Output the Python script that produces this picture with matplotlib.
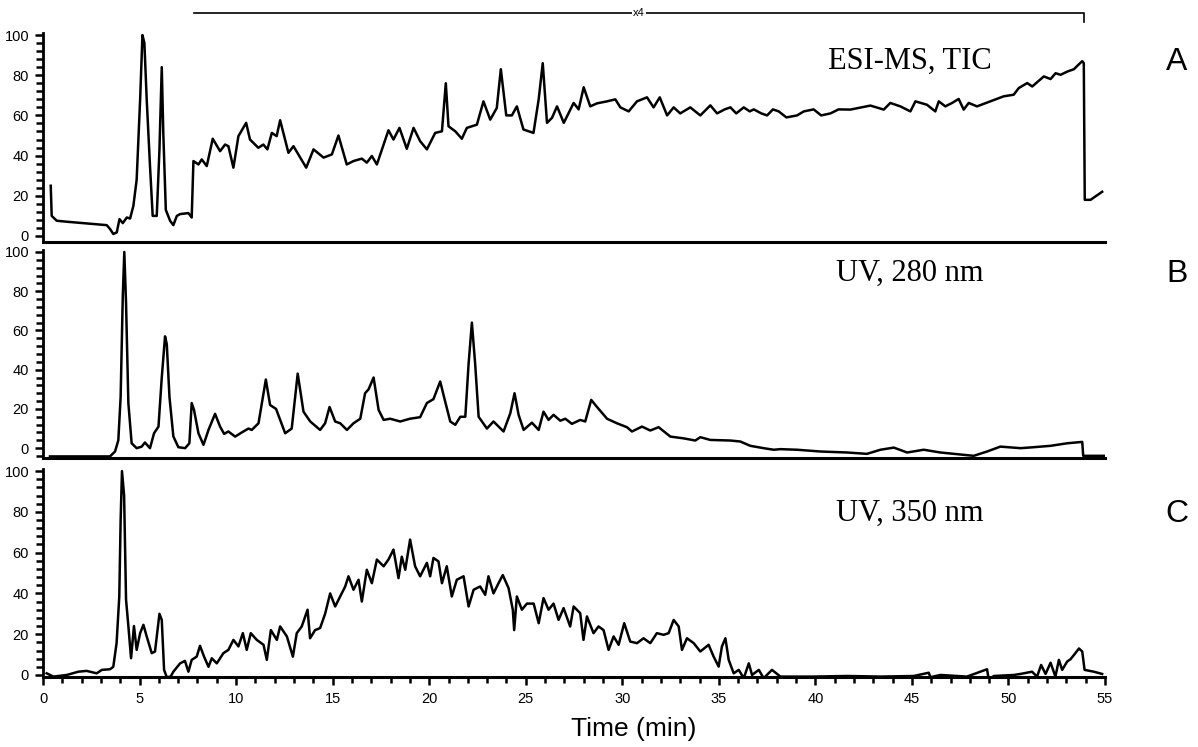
import matplotlib.pyplot as plt
from matplotlib.ticker import MultipleLocator, AutoMinorLocator
import matplotlib.transforms as mtransforms

plt.rcParams['font.family'] = ['Liberation Sans', 'DejaVu Sans']

# Panel A: ESI-MS total ion current (time in min, relative intensity)
tic_t = [0.40, 0.45, 0.71, 1.23, 2.09, 3.30, 3.47, 3.64, 3.82, 3.96, 4.13, 4.34, 4.51, 4.68, 4.85,
         5.03, 5.15, 5.25, 5.37, 5.54, 5.68, 5.89, 6.03, 6.15, 6.23, 6.36, 6.58, 6.75, 6.93, 7.10,
         7.53, 7.70, 7.79, 8.05, 8.22, 8.48, 8.79, 9.17, 9.43, 9.60, 9.86, 10.12, 10.52, 10.72,
         11.15, 11.41, 11.62, 11.85, 12.10, 12.28, 12.71, 12.97, 13.63, 14.01, 14.53, 14.96, 15.30,
         15.73, 16.08, 16.51, 16.77, 17.03, 17.29, 17.89, 18.15, 18.46, 18.84, 19.19, 19.53, 19.88,
         20.31, 20.66, 20.86, 21.00, 21.35, 21.69, 21.95, 22.47, 22.81, 23.16, 23.50, 23.71, 23.99,
         24.28, 24.54, 24.88, 25.40, 25.67, 25.88, 26.10, 26.36, 26.62, 26.97, 27.48, 27.74, 28.00,
         28.34, 28.69, 29.21, 29.64, 29.90, 30.33, 30.76, 31.28, 31.62, 31.94, 32.32, 32.66, 33.00,
         33.52, 34.04, 34.56, 34.91, 35.30, 35.60, 35.90, 36.29, 36.60, 36.81, 37.20, 37.50, 37.80,
         38.10, 38.50, 39.05, 39.40, 39.91, 40.30, 40.78, 41.20, 41.81, 42.33, 42.85, 43.54, 43.88,
         44.40, 44.92, 45.18, 45.78, 46.21, 46.39, 46.73, 47.08, 47.42, 47.68, 47.94, 48.37, 49.06,
         49.75, 50.27, 50.53, 50.97, 51.23, 51.83, 52.18, 52.44, 52.70, 53.04, 53.39, 53.60, 53.82,
         53.90, 53.95, 54.25, 54.85]
tic_v = [25, 10, 7.6, 7.1, 6.4, 5.4, 3.5, 1, 1.8, 8.4, 6.4, 9.2, 8.7, 15, 28,
         68, 100, 96, 68, 35, 10, 10, 43, 84, 51, 13, 7.6, 5.4, 10, 10.9,
         11.4, 9.2, 37.3, 35.6, 38.1, 34.8, 48.4, 42.2, 45.5, 44.7, 34, 49.7, 56.3, 48,
         43.9, 45.5, 43.1, 51.3, 49.7, 57.6, 41.4, 44.7, 34, 43.1, 39, 40.6, 50,
         35.6, 37.3, 38.5, 36.5, 39.8, 35.6, 52.6, 48, 53.8, 43.4, 53.8, 47.2, 43.1,
         51.3, 52.1, 76, 54.6, 52.1, 48.4, 53.8, 55.4, 67, 57.9, 63.7, 83, 60,
         60, 64.5, 53, 51.3, 68, 86, 56.3, 58.8, 64.5, 56.3, 66.2, 63, 74,
         64.5, 66, 67, 68, 64, 62, 67, 69, 64, 69, 60, 64, 61,
         64, 60, 65, 61, 63, 64, 61, 64, 62, 63, 61, 60, 63,
         62, 59, 60, 62, 63, 60, 61, 63, 62.9, 63.9, 64.9, 62.9, 66.2,
         64.5, 62, 67, 65.3, 62, 67, 64.5, 66.2, 68.2, 62.9, 66.2, 64.5, 67,
         69.5, 70.3, 73.6, 76.1, 74.4, 79.4, 78.1, 81, 80.2, 81.8, 83, 85, 87,
         86, 18, 18, 22]

# Panel B: UV 280 nm
uv280_t = [0.36, 3.47, 3.73, 3.90, 4.02, 4.13, 4.21, 4.30, 4.42, 4.59, 4.85, 5.11, 5.28, 5.54, 5.75,
           5.98, 6.15, 6.32, 6.41, 6.55, 6.75, 7.01, 7.36, 7.58, 7.70, 7.82, 8.05, 8.31, 8.57, 8.91,
           9.17, 9.38, 9.60, 9.95, 10.29, 10.64, 10.81, 11.16, 11.54, 11.76, 12.07, 12.54, 12.88,
           13.19, 13.49, 13.84, 14.35, 14.61, 14.84, 15.13, 15.39, 15.74, 16.08, 16.43, 16.68, 16.86,
           17.12, 17.38, 17.64, 17.98, 18.50, 19.00, 19.53, 19.88, 20.22, 20.57, 20.77, 21.09, 21.35,
           21.61, 21.87, 22.04, 22.21, 22.38, 22.56, 22.99, 23.33, 23.85, 24.20, 24.42, 24.63, 24.89,
           25.32, 25.67, 25.92, 26.18, 26.44, 26.79, 27.05, 27.39, 27.82, 28.08, 28.39, 28.69, 29.21,
           29.72, 30.24, 30.50, 31.02, 31.45, 31.88, 32.49, 33.18, 33.78, 34.04, 34.56, 35.60, 36.11,
           36.63, 37.32, 37.84, 38.19, 39.05, 40.26, 41.64, 42.67, 43.37, 44.06, 44.75, 45.61, 46.47,
           47.16, 48.20, 48.89, 49.58, 50.62, 51.31, 52.18, 53.04, 53.82, 53.87, 54.94]
uv280_v = [-4.2, -4.2, -1.7, 4, 26, 77, 100, 74, 23, 2.5, 0, 0.8, 2.9, 0, 7.6,
           11, 36, 57, 53, 26, 6, 0.5, 0, 2.5, 23, 19.5, 7.6, 1.7, 9.3, 17.5,
           11, 7.3, 8.5, 5.9, 8, 10, 9.3, 12.7, 35, 22, 20, 7.6, 10,
           38, 18.6, 13.6, 9.3, 12.7, 21, 13.6, 12.7, 9.3, 12.7, 15, 28, 30,
           36, 19.5, 14.4, 15, 13.6, 15, 15.8, 23, 25, 34, 26, 13.6, 11.9,
           16, 16, 43, 64, 43, 16, 10, 13.6, 8.5, 17.8, 28, 17, 9.3,
           13, 9.3, 18.6, 14.4, 17, 14, 15, 12.4, 14.4, 13.6, 24.6, 21, 15,
           12.7, 10.7, 8.5, 11, 9, 10.7, 5.9, 5, 3.9, 5.6, 4.2, 3.9, 3.4,
           1.2, 0, -0.8, -0.5, -0.8, -1.7, -2.2, -2.9, -0.8, 0.3, -2.2, -0.8, -2.2,
           -2.9, -3.9, -1.7, 0.8, 0, 0.5, 1.2, 2.5, 3.2, -3.9, -3.9]

# Panel C: UV 350 nm
uv350_t = [0.19, 0.54, 1.23, 1.83, 2.26, 2.78, 3.05, 3.47, 3.64, 3.81, 3.95, 4.02, 4.09, 4.20, 4.30,
           4.42, 4.56, 4.71, 4.85, 5.03, 5.20, 5.37, 5.63, 5.80, 6.03, 6.15, 6.27, 6.41, 6.61, 6.75,
           7.10, 7.35, 7.53, 7.70, 7.96, 8.13, 8.34, 8.57, 8.74, 9.00, 9.34, 9.60, 9.86, 10.12, 10.35,
           10.55, 10.76, 11.07, 11.42, 11.59, 11.80, 12.11, 12.28, 12.63, 12.94, 13.14, 13.40, 13.70,
           13.83, 14.09, 14.35, 14.61, 14.87, 15.13, 15.39, 15.65, 15.82, 16.08, 16.34, 16.51, 16.77,
           17.03, 17.29, 17.64, 17.89, 18.15, 18.41, 18.58, 18.76, 19.01, 19.27, 19.53, 19.88, 20.05,
           20.22, 20.48, 20.66, 20.91, 21.17, 21.43, 21.78, 22.04, 22.30, 22.64, 22.90, 23.07, 23.33,
           23.59, 23.81, 24.11, 24.33, 24.40, 24.54, 24.80, 25.06, 25.41, 25.67, 25.92, 26.18, 26.44,
           26.70, 26.96, 27.30, 27.48, 27.82, 27.99, 28.17, 28.51, 28.77, 29.03, 29.29, 29.55, 29.81,
           30.10, 30.41, 30.76, 31.10, 31.45, 31.79, 32.14, 32.40, 32.66, 32.92, 33.09, 33.35, 33.70,
           34.04, 34.47, 34.73, 34.99, 35.16, 35.34, 35.51, 35.77, 36.03, 36.29, 36.55, 36.72, 37.07,
           37.32, 37.75, 38.19, 39.91, 41.64, 43.37, 45.10, 45.87, 45.96, 46.47, 47.85, 48.89, 48.98,
           49.24, 50.28, 50.62, 51.22, 51.48, 51.69, 51.92, 52.18, 52.43, 52.61, 52.78, 53.04, 53.21,
           53.39, 53.65, 53.82, 53.94, 54.16, 54.42, 54.85]
uv350_v = [0.8, -0.8, 0, 1.6, 2, 0.8, 2.5, 2.8, 4, 15.6, 38.5, 76, 100, 88, 37,
           24, 8.2, 24, 12.3, 20.5, 24.6, 18.9, 10.7, 11.5, 30, 27, 2.5, -1.1, -0.8, 1.6,
           5.7, 6.9, 1.6, 7.4, 9, 14.3, 9, 4, 8.2, 5.7, 10.7, 12.3, 17.2, 14, 20.5,
           12.3, 20.5, 17.2, 14.8, 7.4, 22, 17.2, 23.8, 18.9, 9, 20.5, 23.8, 32,
           18, 22, 23, 30, 40, 33.6, 38.5, 43.4, 48.4, 41.8, 46.7, 36, 51.6,
           45, 56.6, 53.3, 56.6, 61.5, 47.5, 58, 51.6, 66.4, 53.3, 48.4, 55, 48.4,
           57.4, 55.7, 45, 53.3, 38.5, 46.7, 48.4, 33.6, 41.8, 43.4, 39.3, 48.4, 40,
           45, 49, 42.6, 32, 22, 38.5, 32, 35, 35, 25.4, 37.7, 32, 35,
           27, 32.8, 23.8, 33.6, 30.3, 17.2, 28.7, 20.5, 23.8, 22, 12.3, 18.9, 14.8,
           25.4, 16.4, 15.6, 18, 15.6, 20.5, 19.7, 20.5, 27, 23.8, 12.3, 18, 15.6,
           11.5, 14.8, 9, 4.1, 14, 18, 7.4, 0.8, 2.5, -1.6, 5.7, 0, 2.5,
           -1.6, 2.5, -0.8, -0.8, -0.5, -0.8, -0.5, 1.1, -1.1, 0, -0.8, 2.8, -2.5,
           -0.5, 0, 0.5, 1.6, -0.8, 4.9, 0.5, 6, -0.8, 7.4, 2.5, 6.6, 7.7,
           9.8, 13, 11.5, 2.5, 2.1, 1.6, 0.5]

panel_names = ["A", "B", "C"]
trace_labels = ["ESI-MS, TIC", "UV, 280 nm", "UV, 350 nm"]
yticks = [0, 20, 40, 60, 80, 100]

fig = plt.figure(figsize=(11.98, 7.47), dpi=100)
left, width = 0.0359, 0.8865
axA = fig.add_axes([left, 0.676, width, 0.2798])
axB = fig.add_axes([left, 0.3869, width, 0.2784], sharex=axA)
axC = fig.add_axes([left, 0.0937, width, 0.2784], sharex=axA)

series = [(axA, tic_t, tic_v, (-3, 101)),
          (axB, uv280_t, uv280_v, (-5, 101)),
          (axC, uv350_t, uv350_v, (-1, 101))]

for ax, t, v, yl in series:
    ax.plot(t, v, color="black", lw=1.8)
    ax.set_ylim(*yl)
    ax.set_yticks(yticks)
    ax.yaxis.set_minor_locator(AutoMinorLocator(5))
    ax.spines["top"].set_visible(False)
    ax.spines["right"].set_visible(False)
    ax.spines["left"].set_linewidth(2)
    ax.spines["bottom"].set_linewidth(2.2)
    ax.tick_params(axis="y", which="major", direction="out", length=6, width=1.8,
                   labelsize=10.5, pad=4)
    ax.tick_params(axis="y", which="minor", direction="out", length=5, width=1.8)

axC.set_xlim(0, 55)
axC.xaxis.set_major_locator(MultipleLocator(5))
axC.xaxis.set_minor_locator(MultipleLocator(1))
axC.tick_params(axis="x", which="major", direction="out", length=6, width=1.8,
                labelsize=10.5, pad=5)
axC.tick_params(axis="x", which="minor", direction="out", length=4, width=1.8)
for ax in (axA, axB):
    ax.tick_params(axis="x", which="both", bottom=False, labelbottom=False)

axC.set_xlabel("Time (min)", fontsize=19)
axC.xaxis.set_label_coords(0.5565, -0.19)

# trace titles and panel letters
label_y = [61, 273, 513]
for ax, lab, name, py in zip((axA, axB, axC), trace_labels, panel_names, label_y):
    fig.text(910 / 1198, 1 - py / 747, lab, family="Liberation Serif", fontsize=22,
             ha="center", va="center")
    fig.text(1177 / 1198, 1 - (py + 1) / 747, name, fontsize=23, ha="center", va="center")

# x4 bracket above panel A
trans = mtransforms.blended_transform_factory(axA.transData, axA.transAxes)
axA.plot([7.8, 53.9, 53.9], [1.096, 1.096, 1.053], color="black", lw=1.2,
         transform=trans, clip_on=False)
axA.text(30.85, 1.096, "x4", transform=trans, fontsize=8, ha="center", va="center",
         bbox=dict(facecolor="white", edgecolor="none", pad=1))

fig.savefig("out.png", dpi=100)
